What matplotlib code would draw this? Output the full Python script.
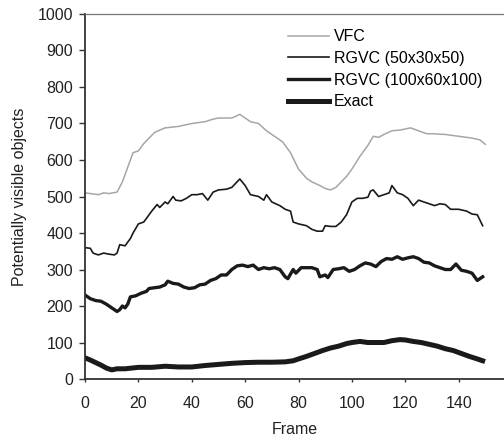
import matplotlib.pyplot as plt
import numpy as np

plt.rcParams['font.family'] = ['Liberation Sans', 'DejaVu Sans']
fontsize = 11.5

# VFC (grau)
vfc_x = [0, 2, 5, 7, 9, 12, 14, 16, 18, 20, 22, 24, 26, 28, 30, 35, 40, 45, 48, 50,
         55, 58, 60, 62, 65, 68, 70, 74, 77, 80, 83, 85, 88, 90, 92, 94, 96, 98, 100,
         103, 106, 108, 110, 112, 115, 118, 120, 122, 125, 128, 130, 135, 140, 145, 148, 150]
vfc_y = [510, 508, 505, 510, 508, 512, 540, 580, 620, 625, 645, 660, 675, 682, 688, 692,
         700, 705, 712, 715, 715, 725, 715, 705, 700, 680, 670, 650, 620, 575, 550, 540,
         530, 522, 518, 525, 540, 555, 575, 610, 640, 665, 662, 670, 680, 682, 685, 688,
         680, 672, 672, 670, 665, 660, 655, 643]

# RGVC (50x30x50)
r50_x = [0, 2, 3, 5, 7, 9, 11, 12, 13, 15, 17, 18, 20, 22, 23, 25, 27, 28, 30, 31, 33,
         34, 36, 38, 40, 42, 44, 46, 48, 50, 53, 55, 58, 60, 62, 65, 67, 68, 70, 73, 75,
         77, 78, 80, 83, 85, 87, 89, 90, 92, 94, 96, 98, 100, 102, 104, 106, 107, 108,
         110, 112, 114, 115, 117, 119, 121, 123, 125, 127, 129, 131, 133, 135, 137, 140,
         143, 145, 147, 149]
r50_y = [360, 358, 345, 340, 345, 342, 340, 345, 368, 365, 385, 400, 425, 430, 440, 460,
         478, 470, 485, 480, 500, 490, 488, 495, 505, 505, 508, 490, 512, 518, 520, 525,
         548, 530, 505, 500, 490, 505, 485, 475, 465, 460, 430, 425, 420, 410, 405, 405,
         420, 418, 418, 430, 450, 485, 495, 495, 498, 515, 518, 500, 505, 510, 530, 510,
         505, 495, 475, 490, 485, 480, 475, 480, 478, 465, 465, 460, 452, 450, 420]

# RGVC (100x60x100)
r100_x = [0, 2, 4, 6, 8, 10, 12, 13, 14, 15, 16, 17, 19, 21, 23, 24, 26, 28, 30, 31, 33,
          35, 37, 39, 41, 43, 45, 47, 49, 51, 53, 55, 57, 59, 61, 63, 65, 67, 69, 71, 73,
          75, 76, 78, 79, 81, 83, 85, 87, 88, 90, 91, 93, 95, 97, 99, 101, 103, 105, 107,
          109, 111, 113, 115, 117, 119, 121, 123, 125, 127, 129, 131, 133, 135, 137, 139,
          141, 143, 145, 147, 149]
r100_y = [230, 220, 215, 213, 205, 195, 185, 190, 200, 195, 205, 225, 228, 235, 240, 248,
          250, 252, 258, 268, 262, 260, 252, 248, 250, 258, 260, 270, 275, 285, 285, 300,
          310, 312, 308, 312, 300, 305, 302, 305, 300, 280, 275, 300, 290, 305, 305, 305,
          300, 280, 285, 278, 300, 302, 305, 295, 300, 310, 318, 315, 308, 322, 330, 328,
          335, 328, 332, 335, 330, 320, 318, 310, 305, 300, 300, 315, 298, 295, 290, 270, 280]

# Exact
ex_x = [0, 2, 4, 6, 8, 10, 12, 15, 20, 25, 30, 35, 40, 45, 50, 55, 60, 65, 70, 75, 78,
        80, 83, 86, 89, 92, 95, 98, 100, 103, 106, 109, 112, 115, 118, 120, 123, 126,
        129, 132, 135, 138, 141, 144, 147, 149]
ex_y = [58, 52, 45, 38, 30, 25, 28, 28, 32, 32, 35, 33, 33, 37, 40, 43, 45, 46, 46, 47,
        50, 55, 62, 70, 78, 85, 90, 97, 100, 103, 100, 100, 100, 105, 108, 107, 103, 100,
        95, 90, 83, 78, 70, 62, 55, 50]

fig = plt.figure(figsize=(5.04, 4.4), dpi=100)
ax = fig.add_axes([0.1687, 0.1386, 0.8313, 0.8296])

ax.plot(vfc_x, vfc_y, color='#a6a6a6', linewidth=1.1, label='VFC')
ax.plot(r50_x, r50_y, color='#1a1a1a', linewidth=1.2, label='RGVC (50x30x50)')
ax.plot(r100_x, r100_y, color='#1a1a1a', linewidth=2.4, label='RGVC (100x60x100)')
ax.plot(ex_x, ex_y, color='#1a1a1a', linewidth=3.6, label='Exact')

ax.set_xlim(0, 157)
ax.set_ylim(0, 1000)
ax.set_xticks(np.arange(0, 141, 20))
ax.set_yticks(np.arange(0, 1001, 100))
ax.spines['right'].set_visible(False)
for s in ['left', 'bottom']:
    ax.spines[s].set_linewidth(1.3)
    ax.spines[s].set_color('#333333')
ax.spines['top'].set_linewidth(0.9)
ax.spines['top'].set_color('#777777')
ax.tick_params(axis='both', labelsize=fontsize, direction='out', width=1,
               colors='#333333', labelcolor='#222222')
ax.tick_params(axis='y', length=4.3, pad=4.3)
ax.tick_params(axis='x', length=2.5, pad=10)
ax.set_xlabel('Frame', fontsize=fontsize, labelpad=8, color='#222222')
ax.set_ylabel('Potentially visible objects', fontsize=fontsize, labelpad=7.5, color='#222222')

ax.legend(loc='upper left', bbox_to_anchor=(0.484, 0.958), frameon=False,
          fontsize=fontsize, handlelength=2.55, handletextpad=0.33, labelspacing=0.42,
          borderpad=0, borderaxespad=0)

plt.savefig('out.png', dpi=100)
